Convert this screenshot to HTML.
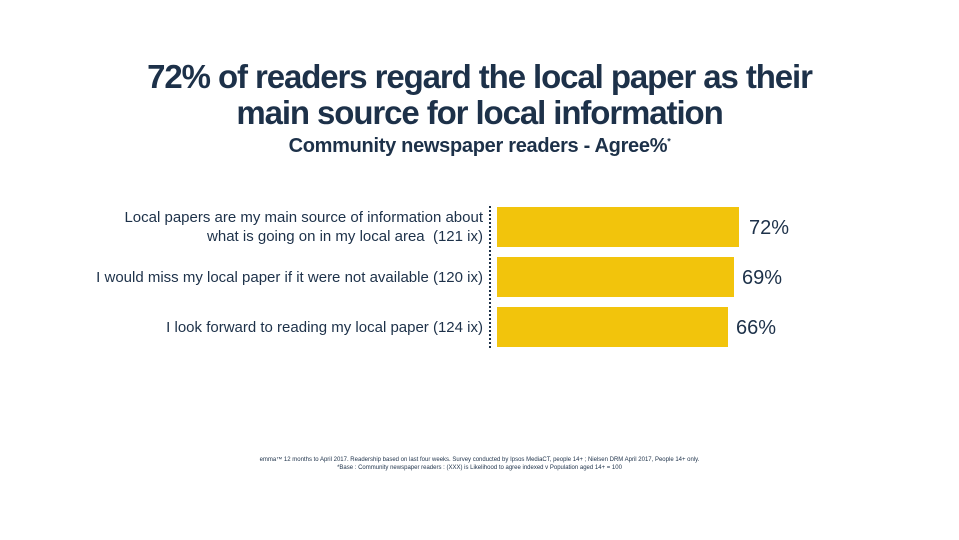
<!DOCTYPE html>
<html><head><meta charset="utf-8"><style>
body{margin:0;width:959px;height:540px;background:#fff;position:relative;overflow:hidden;font-family:"Liberation Sans",sans-serif;color:#1d3149}
.t{position:absolute;left:0;width:959px;text-align:center;font-weight:bold;white-space:nowrap}
.bar{position:absolute;left:497px;height:40px;background:#f2c40c}
.v{position:absolute;font-size:20px}
.l{position:absolute;right:476px;text-align:right;font-size:15px;line-height:19px;white-space:nowrap}
</style></head><body>
<div class="t" style="top:58px;font-size:33px;letter-spacing:-1.1px">72% of readers regard the local paper as their</div>
<div class="t" style="top:94px;font-size:33px;letter-spacing:-1.1px">main source for local information</div>
<div class="t" style="top:135px;font-size:20px;letter-spacing:-0.3px">Community newspaper readers - Agree%<sup style="font-size:9px">*</sup></div>
<div style="position:absolute;left:489px;top:206px;height:142px;border-left:2px dotted #1d3149"></div>
<div class="bar" style="top:207px;width:242px"></div>
<div class="bar" style="top:257px;width:237px"></div>
<div class="bar" style="top:307px;width:231px"></div>
<div class="v" style="left:749px;top:217px">72%</div>
<div class="v" style="left:742px;top:267px">69%</div>
<div class="v" style="left:736px;top:317px">66%</div>
<div class="l" style="top:208px">Local papers are my main source of information about<br>what is going on in my local area&nbsp; (121 ix)</div>
<div class="l" style="top:268px">I would miss my local paper if it were not available (120 ix)</div>
<div class="l" style="top:318px">I look forward to reading my local paper (124 ix)</div>
<div class="t" style="top:457px;font-size:6px;font-weight:normal">emma™ 12 months to April 2017. Readership based on last four weeks. Survey conducted by Ipsos MediaCT, people 14+ ; Nielsen DRM April 2017, People 14+ only.</div>
<div class="t" style="top:465px;font-size:6px;font-weight:normal">*Base : Community newspaper readers : (XXX) is Likelihood to agree indexed v Population aged 14+ = 100</div>
</body></html>
